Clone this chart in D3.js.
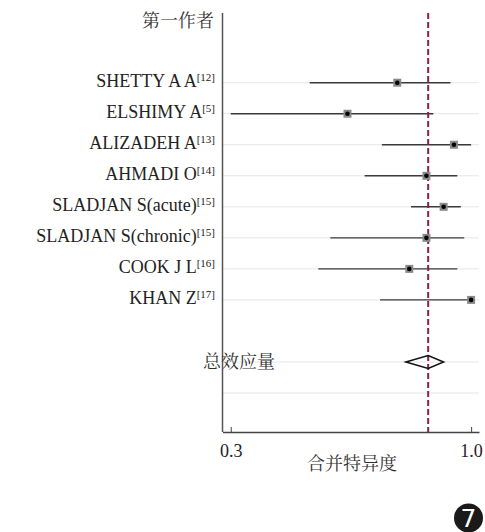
<!DOCTYPE html>
<html>
<head>
<meta charset="utf-8">
<script src="https://cdn.jsdelivr.net/npm/d3@7"></script>
<style>
  body { margin: 0; background: #fff; }
  svg { display: block; }
</style>
</head>
<body>
<svg width="485" height="532"></svg>
<script>
var svg = d3.select('svg');

// studies (first author + reference number)
var authors = ["SHETTY A A", "ELSHIMY A", "ALIZADEH A", "AHMADI O",
               "SLADJAN S(acute)", "SLADJAN S(chronic)", "COOK J L", "KHAN Z"];
var refs = ["[12]", "[5]", "[13]", "[14]", "[15]", "[15]", "[16]", "[17]"];
var specificity = [0.785, 0.64, 0.95, 0.87, 0.92, 0.87, 0.82, 1.00];
var ciLow = [0.53, 0.30, 0.74, 0.69, 0.825, 0.59, 0.555, 0.735];
var ciHigh = [0.94, 0.89, 1.00, 0.96, 0.97, 0.98, 0.96, 1.00];

// pooled estimate
var pooled = { est: 0.875, lo: 0.81, hi: 0.92 };
var tickValues = [0.3, 1.0];

var studies = authors.map(function (a, i) {
    return { name: a, ref: refs[i], est: specificity[i], lo: ciLow[i], hi: ciHigh[i] };
});

var rowKeys = authors.concat(["blank1", "总效应量", "blank2"]);
var gridKeys = authors.concat(["总效应量", "blank2"]);

var x = d3.scaleLinear().domain([0.276, 1.023]).range([222.5, 479]);
var y = d3.scalePoint().domain(rowKeys).range([82.7, 393]);

var plotTop = 13, plotBottom = 432;
var serif = "Tinos, 'Liberation Serif', 'Times New Roman', serif";
var cjk = "'Noto Serif CJK SC', 'Noto Sans CJK SC', serif";

// grid lines
svg.selectAll("line.grid")
    .data(gridKeys)
    .enter()
    .append("line")
    .attr("class", "grid")
    .attr("x1", x.range()[0])
    .attr("x2", x.range()[1])
    .attr("y1", function (d) { return y(d) })
    .attr("y2", function (d) { return y(d) })
    .attr("stroke", "#e6e6e6")
    .attr("stroke-width", 1);

// confidence intervals
svg.selectAll("line.ci")
    .data(studies)
    .enter()
    .append("line")
    .attr("class", "ci")
    .attr("x1", function (d) { return x(d.lo) })
    .attr("x2", function (d) { return x(d.hi) })
    .attr("y1", function (d) { return y(d.name) })
    .attr("y2", function (d) { return y(d.name) })
    .attr("stroke", "#3a3a3a")
    .attr("stroke-width", 1.4);

// pooled line
svg.append("line")
    .attr("x1", x(pooled.est))
    .attr("x2", x(pooled.est))
    .attr("y1", plotTop)
    .attr("y2", plotBottom)
    .attr("stroke", "#8e1f45")
    .attr("stroke-width", 2)
    .attr("stroke-dasharray", "6,3");

// point markers
svg.selectAll("rect.pt")
    .data(studies)
    .enter()
    .append("rect")
    .attr("class", "pt")
    .attr("x", function (d) { return x(d.est) - 4 })
    .attr("y", function (d) { return y(d.name) - 4 })
    .attr("width", 8)
    .attr("height", 8)
    .attr("fill", "#8a8a8a");

svg.selectAll("circle.pt")
    .data(studies)
    .enter()
    .append("circle")
    .attr("class", "pt")
    .attr("cx", function (d) { return x(d.est) })
    .attr("cy", function (d) { return y(d.name) })
    .attr("r", 2.3)
    .attr("fill", "#000");

// summary diamond
var sy = y("总效应量");
svg.append("path")
    .attr("d", "M" + x(pooled.lo) + "," + sy +
               "L" + x(pooled.est) + "," + (sy - 6.5) +
               "L" + x(pooled.hi) + "," + sy +
               "L" + x(pooled.est) + "," + (sy + 6.5) + "Z")
    .attr("fill", "none")
    .attr("stroke", "#111")
    .attr("stroke-width", 1.5);

// axes
svg.append("line")
    .attr("x1", x.range()[0])
    .attr("x2", x.range()[0])
    .attr("y1", plotTop)
    .attr("y2", plotBottom)
    .attr("stroke", "#555")
    .attr("stroke-width", 1.5);

var xAxis = svg.append("g")
    .attr("transform", "translate(0," + plotBottom + ")")
    .call(d3.axisBottom(x).tickValues(tickValues).tickFormat(d3.format(".1f"))
        .tickSize(-5).tickSizeOuter(0).tickPadding(12));
xAxis.attr("font-family", null).attr("font-size", null);
xAxis.select(".domain").attr("stroke", "#444").attr("stroke-width", 1.5);
xAxis.selectAll(".tick line").attr("stroke", "#444");
xAxis.selectAll("text")
    .style("font-family", serif)
    .style("font-size", "18px")
    .attr("fill", "#222");

svg.append("text")
    .style("font-family", cjk)
    .style("font-size", "18px")
    .attr("x", 352)
    .attr("y", 470)
    .attr("text-anchor", "middle")
    .attr("fill", "#333")
    .text("合并特异度");

svg.append("text")
    .style("font-family", cjk)
    .style("font-size", "18px")
    .attr("x", 214)
    .attr("y", 27)
    .attr("text-anchor", "end")
    .attr("fill", "#333")
    .text("第一作者");

// study labels
var labels = svg.selectAll("text.lab")
    .data(studies)
    .enter()
    .append("text")
    .attr("class", "lab")
    .style("font-family", serif)
    .style("font-size", "18px")
    .attr("x", 215)
    .attr("y", function (d) { return y(d.name) + 4 })
    .attr("text-anchor", "end")
    .attr("fill", "#222");
labels.append("tspan").text(function (d) { return d.name });
labels.append("tspan")
    .style("font-size", "11px")
    .attr("dy", -6)
    .text(function (d) { return d.ref });

svg.append("text")
    .style("font-family", cjk)
    .style("font-size", "18px")
    .attr("x", 203)
    .attr("y", sy + 6)
    .attr("fill", "#333")
    .text("总效应量");

// figure badge
svg.append("circle")
    .attr("cx", 468.5)
    .attr("cy", 518)
    .attr("r", 14.5)
    .attr("fill", "#1a1a1a");
svg.append("text")
    .style("font-family", "'DejaVu Sans', sans-serif")
    .style("font-size", "25px")
    .attr("x", 468.5)
    .attr("y", 527)
    .attr("text-anchor", "middle")
    .attr("fill", "#fff")
    .text("7");
</script>
</body>
</html>
